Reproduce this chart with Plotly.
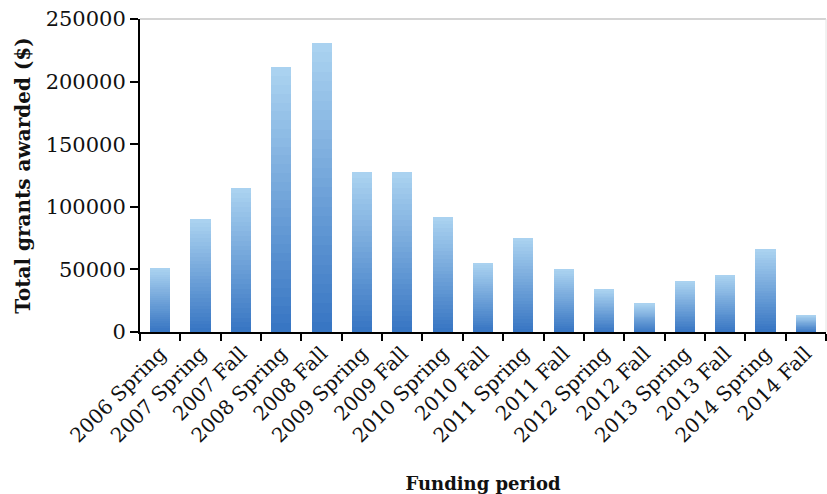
import plotly.graph_objects as go

periods = [
    "2006 Spring", "2007 Spring", "2007 Fall", "2008 Spring", "2008 Fall",
    "2009 Spring", "2009 Fall", "2010 Spring", "2010 Fall", "2011 Spring",
    "2011 Fall", "2012 Spring", "2012 Fall", "2013 Spring", "2013 Fall",
    "2014 Spring", "2014 Fall",
]
grants = [
    51000, 90000, 115000, 211500, 231000,
    127500, 127500, 92000, 55000, 75000,
    50000, 34000, 22500, 40500, 45500,
    66000, 13500,
]

# Gradient look: each bar is split into thin stacked bands, dark at bottom, light on top
N_BANDS = 30
bottom_rgb = (56, 118, 195)
top_rgb = (170, 210, 240)

def _band_color(i):
    t = i / (N_BANDS - 1)
    r, g, b = (round(bottom_rgb[k] + (top_rgb[k] - bottom_rgb[k]) * t) for k in range(3))
    return f"rgb({r},{g},{b})"

fig = go.Figure()

for i in range(N_BANDS):
    fig.add_trace(go.Bar(
        x=periods,
        y=[v / N_BANDS for v in grants],
        marker=dict(color=_band_color(i), line=dict(width=0)),
        showlegend=False,
        hoverinfo="skip" if i else None,
    ))

serif = "DejaVu Serif"
ink = "#111"

fig.update_layout(
    width=827,
    height=494,
    barmode="stack",
    bargap=0.5,
    plot_bgcolor="white",
    paper_bgcolor="white",
    margin=dict(l=140, r=1, t=19, b=162),
    showlegend=False,
    xaxis=dict(
        type="category",
        showline=True,
        linecolor="black",
        linewidth=2,
        ticks="outside",
        tickson="boundaries",
        ticklen=7,
        tickwidth=2,
        tickcolor="black",
        tickangle=-45,
        tickfont=dict(family=serif, size=20, color=ink),
        title=dict(text="<b>Funding period</b>",
                   font=dict(family=serif, size=18, color=ink),
                   standoff=31),
        showgrid=False,
    ),
    yaxis=dict(
        range=[0, 250000],
        tickvals=[0, 50000, 100000, 150000, 200000, 250000],
        ticktext=["0", "50000", "100000", "150000", "200000", "250000"],
        showline=True,
        linecolor="black",
        linewidth=2,
        ticks="outside",
        ticklen=8,
        tickwidth=2,
        tickcolor="black",
        tickfont=dict(family=serif, size=21, color=ink),
        title=dict(text="<b>Total grants awarded ($)</b>",
                   font=dict(family=serif, size=20, color=ink),
                   standoff=10),
        showgrid=False,
        zeroline=False,
    ),
    shapes=[
        dict(type="line", xref="paper", yref="paper", x0=0, x1=1, y0=1, y1=1,
             line=dict(color="#d4d4d4", width=2)),
        dict(type="line", xref="paper", yref="paper", x0=1, x1=1, y0=0, y1=1,
             line=dict(color="#e4e4e4", width=1)),
    ],
)

# drop the page's default body margin so the figure sits at the window's corner
fig.write_html(
    "out.html",
    config={"displayModeBar": False},
    post_script="document.body.style.margin = '0';",
)
